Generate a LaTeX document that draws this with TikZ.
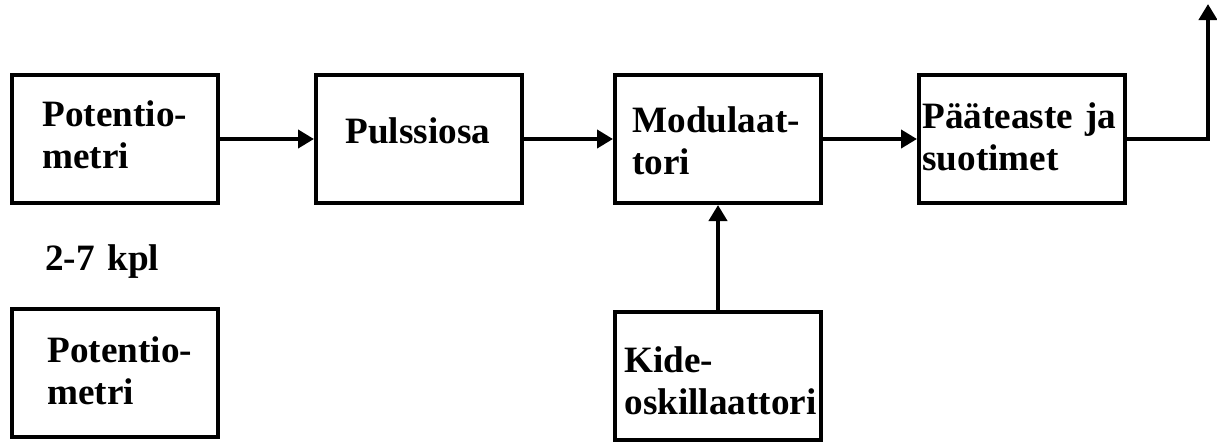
\documentclass[tikz,border=0pt]{standalone}
\usepackage{fontspec}
\setmainfont{Liberation Serif}
\usetikzlibrary{arrows.meta}

\begin{document}
\begin{tikzpicture}[x=0.5pt,y=-0.5pt,
    blk/.style={draw,line width=2pt,minimum width=103pt,minimum height=64pt,inner sep=0pt},
    txt/.style={anchor=base west,inner sep=0pt,text width=110pt,align=left,
      font=\fontsize{18.6}{21}\selectfont\bfseries},
    >={Triangle[length=8pt,width=9pt]}]
    \useasboundingbox (0,0) rectangle (1217,441);
    \node[blk] (pot1) at (115,139) {};
    \node[blk] (puls) at (419,139) {};
    \node[blk] (mod) at (718,139) {};
    \node[blk] (paate) at (1022,139) {};
    \node[blk] (pot2) at (115,373) {};
    \node[blk] (kide) at (718,376) {};
    \coordinate (out) at (1208,4);

    \node[txt] (lpot1) at (42,126) {Potentio-\\metri};
    \node[txt] (lpuls) at (345,143) {Pulssiosa};
    \node[txt] (lmod) at (632,132) {Modulaat-\\tori};
    \node[txt] (lpaate) at (922,128) {Pääteaste ja\\suotimet};
    \node[txt] (lkpl) at (45,270) {2-7 kpl};
    \node[txt] (lpot2) at (47,362) {Potentio-\\metri};
    \node[txt] (lkide) at (624,372) {Kide-\\oskillaattori};

    \draw[line width=2pt,->] (pot1.east) -- (puls.west);
    \draw[line width=2pt,->] (puls.east) -- (mod.west);
    \draw[line width=2pt,->] (mod.east) -- (paate.west);
    \draw[line width=2pt,->] (kide.north) -- (mod.south);
    \draw[line width=2pt,->] (paate.east) -| (out);
\end{tikzpicture}
\end{document}
